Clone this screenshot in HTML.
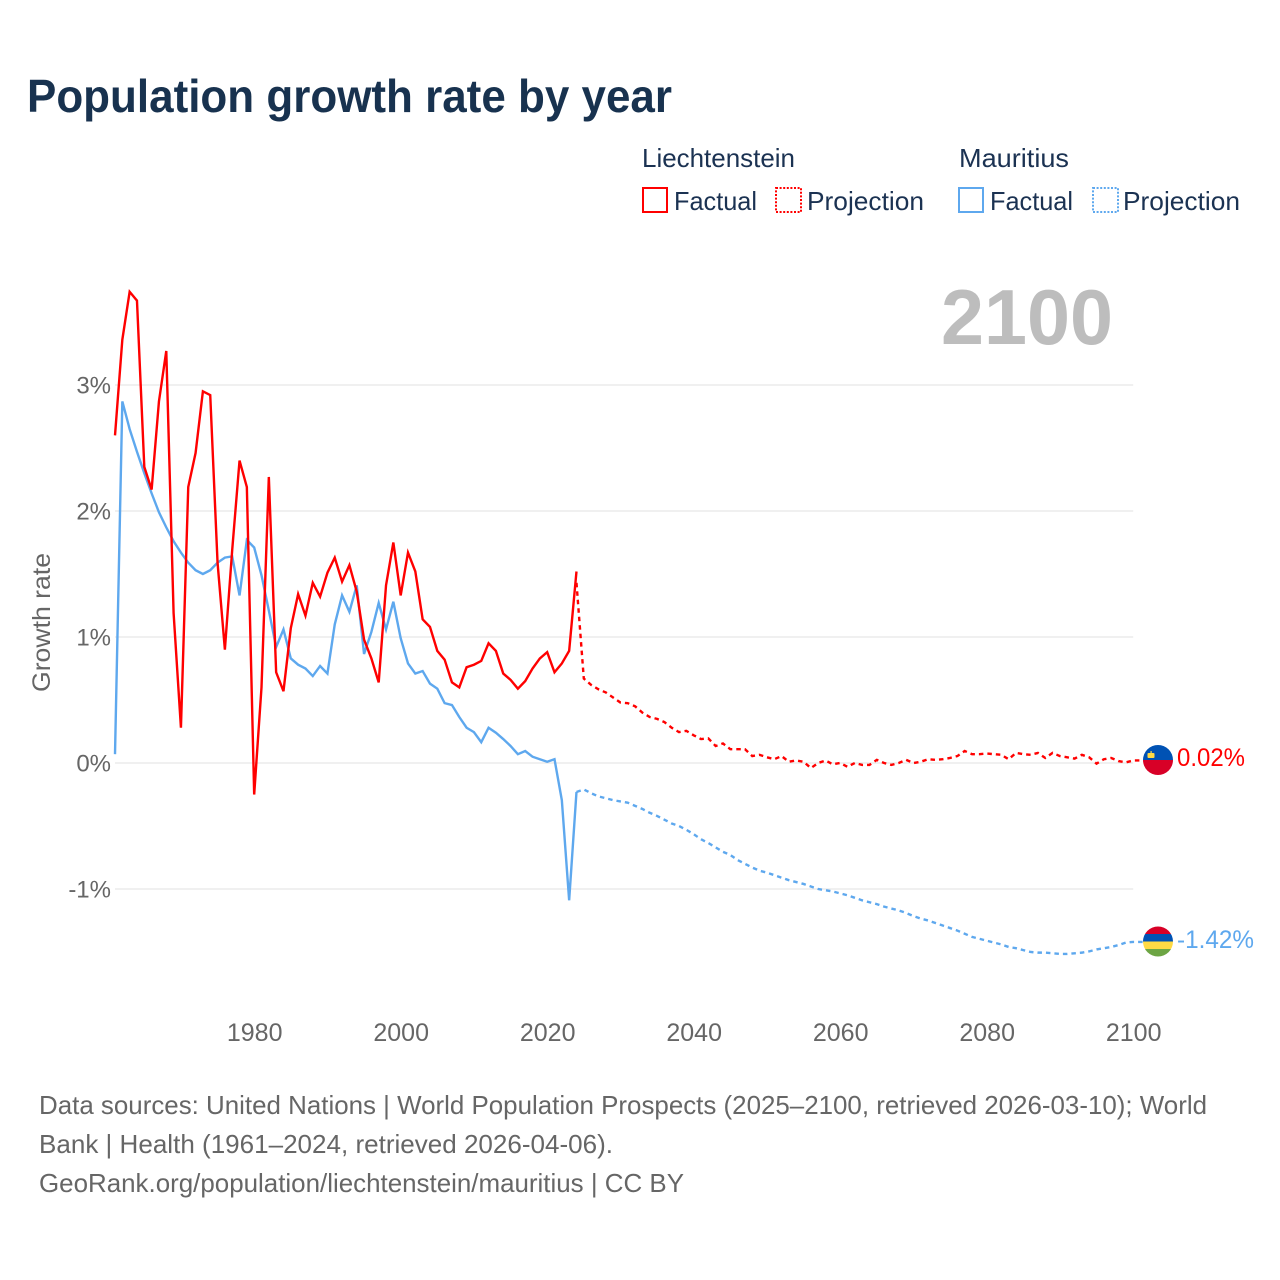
<!DOCTYPE html>
<html lang="en">
<head>
<meta charset="utf-8">
<title>Population growth rate by year</title>
<style>
html,body{margin:0;padding:0;background:#fff;width:1280px;height:1280px;overflow:hidden}
svg{display:block}
text{font-family:"Liberation Sans",sans-serif}
</style>
</head>
<body>
<svg id="chart" xmlns="http://www.w3.org/2000/svg" width="1280" height="1280" viewBox="0 0 1280 1280">
  <rect x="0" y="0" width="1280" height="1280" fill="#fff"/>
  <text x="27" y="112" font-size="46" font-weight="700" fill="#18324f" textLength="645" lengthAdjust="spacingAndGlyphs">Population growth rate by year</text>

  <g font-size="26" fill="#1b3252">
    <text x="642" y="167" textLength="153" lengthAdjust="spacingAndGlyphs">Liechtenstein</text>
    <text x="959" y="167" textLength="110" lengthAdjust="spacingAndGlyphs">Mauritius</text>
    <rect x="643" y="188" width="24" height="24" fill="none" stroke="#ff0000" stroke-width="2"/>
    <text x="674" y="210" textLength="83" lengthAdjust="spacingAndGlyphs">Factual</text>
    <rect x="776" y="188" width="25" height="24" fill="none" stroke="#ff0000" stroke-width="2" stroke-dasharray="2 1.6"/>
    <text x="807" y="210" textLength="117" lengthAdjust="spacingAndGlyphs">Projection</text>
    <rect x="959" y="188" width="24" height="24" fill="none" stroke="#5ea8ee" stroke-width="2"/>
    <text x="990" y="210" textLength="83" lengthAdjust="spacingAndGlyphs">Factual</text>
    <rect x="1093" y="188" width="25" height="24" fill="none" stroke="#5ea8ee" stroke-width="2" stroke-dasharray="2 1.6"/>
    <text x="1123" y="210" textLength="117" lengthAdjust="spacingAndGlyphs">Projection</text>
  </g>

  <text x="941" y="344" font-size="78" font-weight="700" fill="#bdbdbd" textLength="172" lengthAdjust="spacingAndGlyphs">2100</text>

  <g id="grid"></g>
  <g id="yticks" font-size="24" fill="#666"></g>
  <g id="xticks" font-size="25" fill="#666"></g>
  <text transform="translate(50,622.5) rotate(-90)" text-anchor="middle" font-size="25" fill="#666" textLength="139" lengthAdjust="spacingAndGlyphs">Growth rate</text>

  <g id="series"></g>

  <defs>
    <clipPath id="flag-clip-li"><circle cx="1158" cy="760" r="15"/></clipPath>
    <clipPath id="flag-clip-mu"><circle cx="1158" cy="941.5" r="15"/></clipPath>
  </defs>
  <g clip-path="url(#flag-clip-li)">
    <rect x="1143" y="745" width="30" height="15" fill="#0052b4"/>
    <rect x="1143" y="760" width="30" height="16" fill="#d80027"/>
    <rect x="1147.5" y="753" width="7" height="5" rx="1" fill="#ffda44"/>
    <rect x="1150.5" y="751" width="1.2" height="3" fill="#ffda44"/>
  </g>
  <g clip-path="url(#flag-clip-mu)">
    <rect x="1143" y="926.5" width="30" height="7.5" fill="#d80027"/>
    <rect x="1143" y="934" width="30" height="7.5" fill="#0052b4"/>
    <rect x="1143" y="941.5" width="30" height="7.5" fill="#ffda44"/>
    <rect x="1143" y="949" width="30" height="7.5" fill="#6da544"/>
  </g>
  <text x="1177" y="766" font-size="25" fill="#ff0000" textLength="68" lengthAdjust="spacingAndGlyphs">0.02%</text>
  <text x="1177" y="948" font-size="25" fill="#5ea8ee" textLength="77" lengthAdjust="spacingAndGlyphs">-1.42%</text>

  <g font-size="26" fill="#666">
    <text x="39" y="1114" textLength="1168" lengthAdjust="spacingAndGlyphs">Data sources: United Nations | World Population Prospects (2025–2100, retrieved 2026-03-10); World</text>
    <text x="39" y="1153" textLength="574" lengthAdjust="spacingAndGlyphs">Bank | Health (1961–2024, retrieved 2026-04-06).</text>
    <text x="39" y="1192" textLength="645" lengthAdjust="spacingAndGlyphs">GeoRank.org/population/liechtenstein/mauritius | CC BY</text>
  </g>
</svg>
<script>
var yTickValues = [3, 2, 1, 0, -1];
var yTickLabels = ["3%", "2%", "1%", "0%", "-1%"];
var xTickValues = [1980, 2000, 2020, 2040, 2060, 2080, 2100];
var xTickLabels = ["1980", "2000", "2020", "2040", "2060", "2080", "2100"];
var factualStartYear = 1961;
var projectionStartYear = 2024;

var liechtensteinFactual = [2.60,3.36,3.74,3.67,2.35,2.17,2.87,3.27,1.19,0.28,2.19,2.46,2.95,2.92,1.59,0.90,1.69,2.40,2.19,-0.25,0.60,2.27,0.72,0.57,1.07,1.34,1.17,1.43,1.32,1.51,1.63,1.44,1.57,1.36,0.98,0.83,0.64,1.41,1.75,1.33,1.67,1.52,1.14,1.08,0.89,0.82,0.64,0.60,0.76,0.78,0.81,0.95,0.89,0.71,0.66,0.59,0.65,0.75,0.83,0.88,0.72,0.79,0.89,1.52];
var mauritiusFactual = [0.07,2.87,2.65,2.47,2.30,2.14,1.99,1.87,1.76,1.67,1.59,1.53,1.50,1.53,1.59,1.63,1.64,1.33,1.77,1.71,1.49,1.21,0.92,1.06,0.83,0.78,0.75,0.69,0.77,0.71,1.10,1.33,1.20,1.41,0.865,1.04,1.27,1.06,1.28,0.99,0.79,0.71,0.73,0.63,0.59,0.475,0.46,0.365,0.28,0.245,0.165,0.28,0.24,0.19,0.135,0.07,0.095,0.05,0.03,0.01,0.03,-0.295,-1.09,-0.23];
var liechtensteinProjection = [1.43,0.67,0.62,0.585,0.56,0.52,0.48,0.475,0.45,0.40,0.365,0.35,0.325,0.28,0.245,0.255,0.22,0.19,0.195,0.135,0.155,0.11,0.11,0.11,0.055,0.065,0.045,0.03,0.055,0.01,0.02,0.01,-0.04,0,0.02,-0.01,0,-0.03,0,-0.015,-0.015,0.025,0,-0.015,0,0.025,0,0.01,0.03,0.025,0.03,0.04,0.055,0.095,0.07,0.07,0.075,0.07,0.065,0.03,0.08,0.07,0.065,0.08,0.04,0.08,0.055,0.045,0.035,0.065,0.045,-0.005,0.03,0.04,0.015,0.005,0.02];
var mauritiusProjection = [-0.23,-0.21,-0.24,-0.265,-0.28,-0.295,-0.305,-0.315,-0.34,-0.365,-0.395,-0.42,-0.45,-0.48,-0.50,-0.53,-0.565,-0.605,-0.635,-0.67,-0.705,-0.73,-0.77,-0.80,-0.83,-0.855,-0.87,-0.89,-0.91,-0.93,-0.945,-0.96,-0.98,-1.0,-1.01,-1.02,-1.035,-1.05,-1.07,-1.09,-1.105,-1.12,-1.14,-1.155,-1.17,-1.19,-1.215,-1.235,-1.25,-1.27,-1.29,-1.31,-1.33,-1.355,-1.38,-1.395,-1.41,-1.425,-1.44,-1.46,-1.47,-1.485,-1.50,-1.505,-1.505,-1.51,-1.515,-1.515,-1.51,-1.505,-1.495,-1.48,-1.47,-1.46,-1.445,-1.425,-1.42];

var SVG_NS = "http://www.w3.org/2000/svg";
function xScale(year) { return 115 + (year - 1961) * 7.325; }
function yScale(value) { return 763 - value * 126; }

var gridLayer = document.getElementById("grid");
var yLayer = document.getElementById("yticks");
var xLayer = document.getElementById("xticks");
var seriesLayer = document.getElementById("series");

yTickValues.forEach(function (v, i) {
  var line = document.createElementNS(SVG_NS, "line");
  
  
  line.setAttribute("x1", xScale(1961));
  line.setAttribute("x2", xScale(2100));
  line.setAttribute("y1", yScale(v));
  line.setAttribute("y2", yScale(v));
  line.setAttribute("stroke", "#e6e6e6");
  line.setAttribute("stroke-width", "1.2");
  gridLayer.appendChild(line);

  var label = document.createElementNS(SVG_NS, "text");
  
  
  label.setAttribute("x", 111);
  label.setAttribute("y", yScale(v) + 8.5);
  label.setAttribute("text-anchor", "end");
  label.textContent = yTickLabels[i];
  yLayer.appendChild(label);
});

xTickValues.forEach(function (t, i) {
  var label = document.createElementNS(SVG_NS, "text");
  
  
  label.setAttribute("x", xScale(t) + 0.5);
  label.setAttribute("y", 1041);
  label.setAttribute("text-anchor", "middle");
  label.textContent = xTickLabels[i];
  xLayer.appendChild(label);
});

function drawSeries(values, startYear, color, dashed, seriesName, extendToX) {
  var pts = values.map(function (v, i) {
    return xScale(startYear + i).toFixed(2) + "," + yScale(v).toFixed(2);
  });
  if (extendToX) {
    pts.push(extendToX + "," + yScale(values[values.length - 1]).toFixed(2));
  }
  var line = document.createElementNS(SVG_NS, "polyline");
  
  
  line.setAttribute("points", pts.join(" "));
  line.setAttribute("fill", "none");
  line.setAttribute("stroke", color);
  line.setAttribute("stroke-width", "2.4");
  line.setAttribute("stroke-linejoin", "miter");
  if (dashed) {
    line.setAttribute("stroke-dasharray", "4.5 4");
  }
  seriesLayer.appendChild(line);
}

drawSeries(mauritiusFactual, factualStartYear, "#5ea8ee", false, "mauritius-factual-line");
drawSeries(mauritiusProjection, projectionStartYear, "#5ea8ee", true, "mauritius-projection-line", 1150);
drawSeries(liechtensteinFactual, factualStartYear, "#ff0000", false, "liechtenstein-factual-line");
drawSeries(liechtensteinProjection, projectionStartYear, "#ff0000", true, "liechtenstein-projection-line", 1150);
</script>
</body>
</html>
